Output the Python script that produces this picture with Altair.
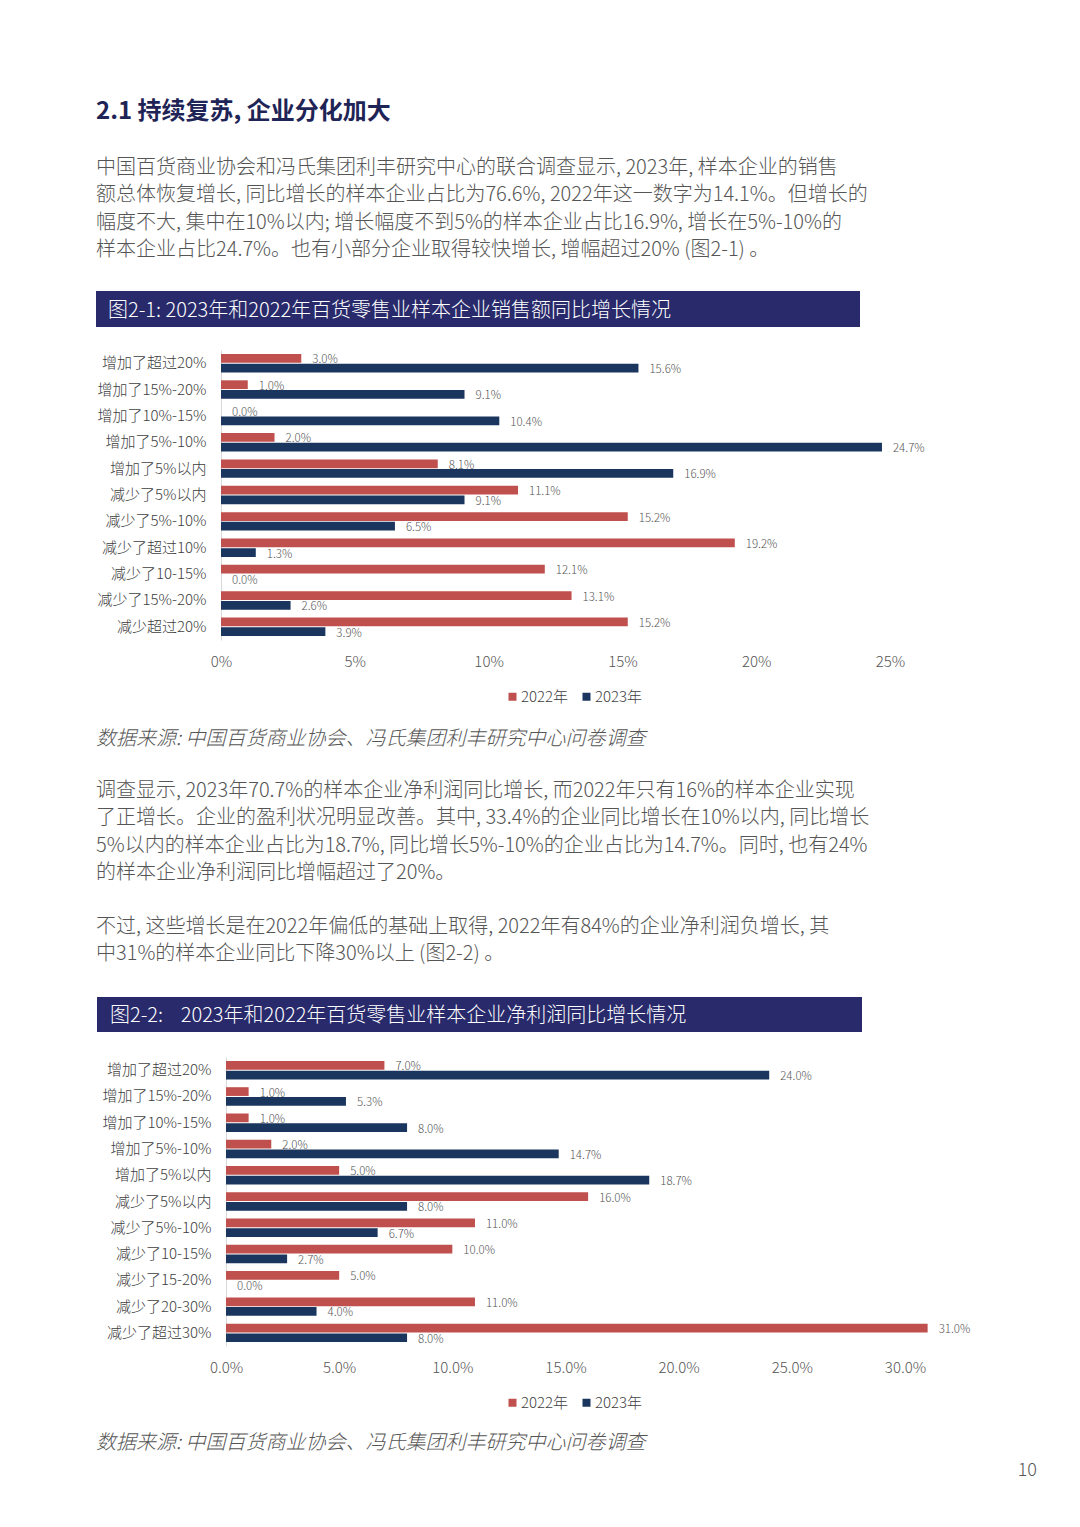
import altair as alt
import pandas as pd

# ---------------- data ----------------
years = ["2022年", "2023年"]

cats1 = ["增加了超过20%", "增加了15%-20%", "增加了10%-15%", "增加了5%-10%", "增加了5%以内",
         "减少了5%以内", "减少了5%-10%", "减少了超过10%", "减少了10-15%", "减少了15%-20%", "减少超过20%"]
v22_1 = [3.0, 1.0, 0.0, 2.0, 8.1, 11.1, 15.2, 19.2, 12.1, 13.1, 15.2]
v23_1 = [15.6, 9.1, 10.4, 24.7, 16.9, 9.1, 6.5, 1.3, 0.0, 2.6, 3.9]
ticks1 = [0, 5, 10, 15, 20, 25]

cats2 = ["增加了超过20%", "增加了15%-20%", "增加了10%-15%", "增加了5%-10%", "增加了5%以内",
         "减少了5%以内", "减少了5%-10%", "减少了10-15%", "减少了15-20%", "减少了20-30%", "减少了超过30%"]
v22_2 = [7.0, 1.0, 1.0, 2.0, 5.0, 16.0, 11.0, 10.0, 5.0, 11.0, 31.0]
v23_2 = [24.0, 5.3, 8.0, 14.7, 18.7, 8.0, 6.7, 2.7, 0.0, 4.0, 8.0]
ticks2 = [0, 5, 10, 15, 20, 25, 30]

heading = "2.1 持续复苏, 企业分化加大"
para1 = [
    "中国百货商业协会和冯氏集团利丰研究中心的联合调查显示, 2023年, 样本企业的销售",
    "额总体恢复增长, 同比增长的样本企业占比为76.6%, 2022年这一数字为14.1%。但增长的",
    "幅度不大, 集中在10%以内; 增长幅度不到5%的样本企业占比16.9%, 增长在5%-10%的",
    "样本企业占比24.7%。也有小部分企业取得较快增长, 增幅超过20% (图2-1) 。",
]
title1 = "图2-1: 2023年和2022年百货零售业样本企业销售额同比增长情况"
source = "数据来源: 中国百货商业协会、冯氏集团利丰研究中心问卷调查"
para2 = [
    "调查显示, 2023年70.7%的样本企业净利润同比增长, 而2022年只有16%的样本企业实现",
    "了正增长。企业的盈利状况明显改善。其中, 33.4%的企业同比增长在10%以内, 同比增长",
    "5%以内的样本企业占比为18.7%, 同比增长5%-10%的企业占比为14.7%。同时, 也有24%",
    "的样本企业净利润同比增幅超过了20%。",
]
para3 = [
    "不过, 这些增长是在2022年偏低的基础上取得, 2022年有84%的企业净利润负增长, 其",
    "中31%的样本企业同比下降30%以上 (图2-2) 。",
]
title2 = "图2-2:\u00a0\u00a0\u00a0\u00a02023年和2022年百货零售业样本企业净利润同比增长情况"
page_no = "10"

# ---------------- style ----------------
FONT = "Noto Sans CJK SC"
RED = "#c0504d"
NAVY = "#1a365f"
BAR_TITLE = "#282a6b"
HEAD = "#1f2456"
TXT = "#555555"
LAB = "#404040"


def txt(s, x, y, size, color, weight=400, style="normal", align="left"):
    return alt.Chart(pd.DataFrame({"t": [s]})).mark_text(
        align=align, baseline="middle", font=FONT, fontSize=size, color=color,
        fontWeight=weight, fontStyle=style, dy=2
    ).encode(x=alt.value(x), y=alt.value(y), text="t:N")


def box(x1, y1, x2, y2, color):
    return alt.Chart(pd.DataFrame({"a": [0]})).mark_rect(color=color).encode(
        x=alt.value(x1), x2=alt.value(x2), y=alt.value(y1), y2=alt.value(y2))


def para(lines, x, y0, step, ox, oy):
    return [txt(s, x - ox, y0 + i * step - oy, 20, TXT, weight=300) for i, s in enumerate(lines)]


def bars(cats, v22, v23, xmax, ticks, lab_expr, x0, width, leg_x, leg_y):
    df = pd.DataFrame({
        "cat": cats * 2,
        "year": [years[0]] * len(cats) + [years[1]] * len(cats),
        "v": v22 + v23,
    })
    base = alt.Chart(df).transform_calculate(lab="format(datum.v, '.1f') + '%'")
    y = alt.Y("cat:N", sort=cats,
              scale=alt.Scale(paddingInner=0.3, paddingOuter=0.15),
              axis=alt.Axis(title=None, ticks=False, domainColor="#d9d9d9", domainWidth=1,
                            labelFontSize=15, labelColor=LAB, labelFont=FONT,
                            labelPadding=15, offset=-x0, labelFontWeight=300))
    x = alt.X("v:Q",
              scale=alt.Scale(domain=[0, xmax], range=[x0, x0 + width], nice=False),
              axis=alt.Axis(title=None, values=ticks, labelExpr=lab_expr, grid=False,
                            ticks=False, domain=False, labelFontSize=15, labelColor=TXT,
                            labelFont=FONT, labelPadding=14, labelFlush=False,
                            labelFontWeight=300))
    yo = alt.YOffset("year:N", sort=years, scale=alt.Scale(paddingInner=0.1))
    b = base.mark_bar().encode(
        x=x, y=y, yOffset=yo,
        color=alt.Color("year:N", scale=alt.Scale(domain=years, range=[RED, NAVY]),
                        legend=alt.Legend(title=None, orient="none", legendX=leg_x, legendY=leg_y,
                                          direction="horizontal", symbolType="square",
                                          symbolSize=64, symbolStrokeWidth=0,
                                          labelFontSize=15, labelFont=FONT, labelColor=LAB,
                                          labelOffset=1, columnPadding=10, padding=0,
                                          labelFontWeight=300)),
    )
    t = base.mark_text(align="left", baseline="middle", dx=11, dy=2, fontSize=11.5,
                       color=TXT, font=FONT, fontWeight=300).encode(
        x=alt.X("v:Q"), y=alt.Y("cat:N", sort=cats), yOffset=yo, text="lab:N")
    return [b, t]


# ---------------- panel A (page origin of plot: 221, 350) ----------------
OX, OY = 221, 350
layersA = [box(8 - OX, 8 - OY, 1072 - OX, 0, "white")]
layersA += bars(cats1, v22_1, v23_1, 25, ticks1, "datum.value + '%'", 0, 669, 284, 339)
layersA.append(txt(heading, 96 - OX, 110 - OY, 24, HEAD, weight=700))
layersA += para(para1, 96, 166, 27.3, OX, OY)
layersA.append(box(96 - OX, 291 - OY, 860 - OX, 327 - OY, BAR_TITLE))
layersA.append(txt(title1, 108 - OX, 309 - OY, 20, "white", weight=300))
layersA.append(txt(source, 96 - OX, 737 - OY, 20, TXT, weight=300, style="italic"))
layersA += para(para2, 96, 789, 27.3, OX, OY)
layersA += para(para3, 96, 925, 27.3, OX, OY)
layersA.append(box(97 - OX, 997 - OY, 862 - OX, 1032 - OY, BAR_TITLE))
layersA.append(txt(title2, 110 - OX, 1014 - OY, 20, "white", weight=300))
panelA = alt.layer(*layersA).properties(width=669, height=290)

# ---------------- panel B (page origin of plot: 221, 1057) ----------------
OYB = 1057
layersB = bars(cats2, v22_2, v23_2, 30, ticks2, "format(datum.value, '.1f') + '%'", 5, 679, 284, 338)
layersB.append(txt(source, 96 - OX, 1441 - OYB, 20, TXT, weight=300, style="italic"))
layersB.append(txt(page_no, 1037 - OX, 1469 - OYB, 18, TXT, weight=300, align="right"))
panelB = alt.layer(*layersB).properties(width=684, height=289)

chart = alt.vconcat(panelA, panelB, spacing=25).resolve_scale(
    color="independent"
).resolve_legend(
    color="independent"
).properties(
    padding=0, background="white"
).configure(font=FONT).configure_view(strokeWidth=0)

chart.save("out.html", embed_options={"renderer": "svg", "actions": False})
